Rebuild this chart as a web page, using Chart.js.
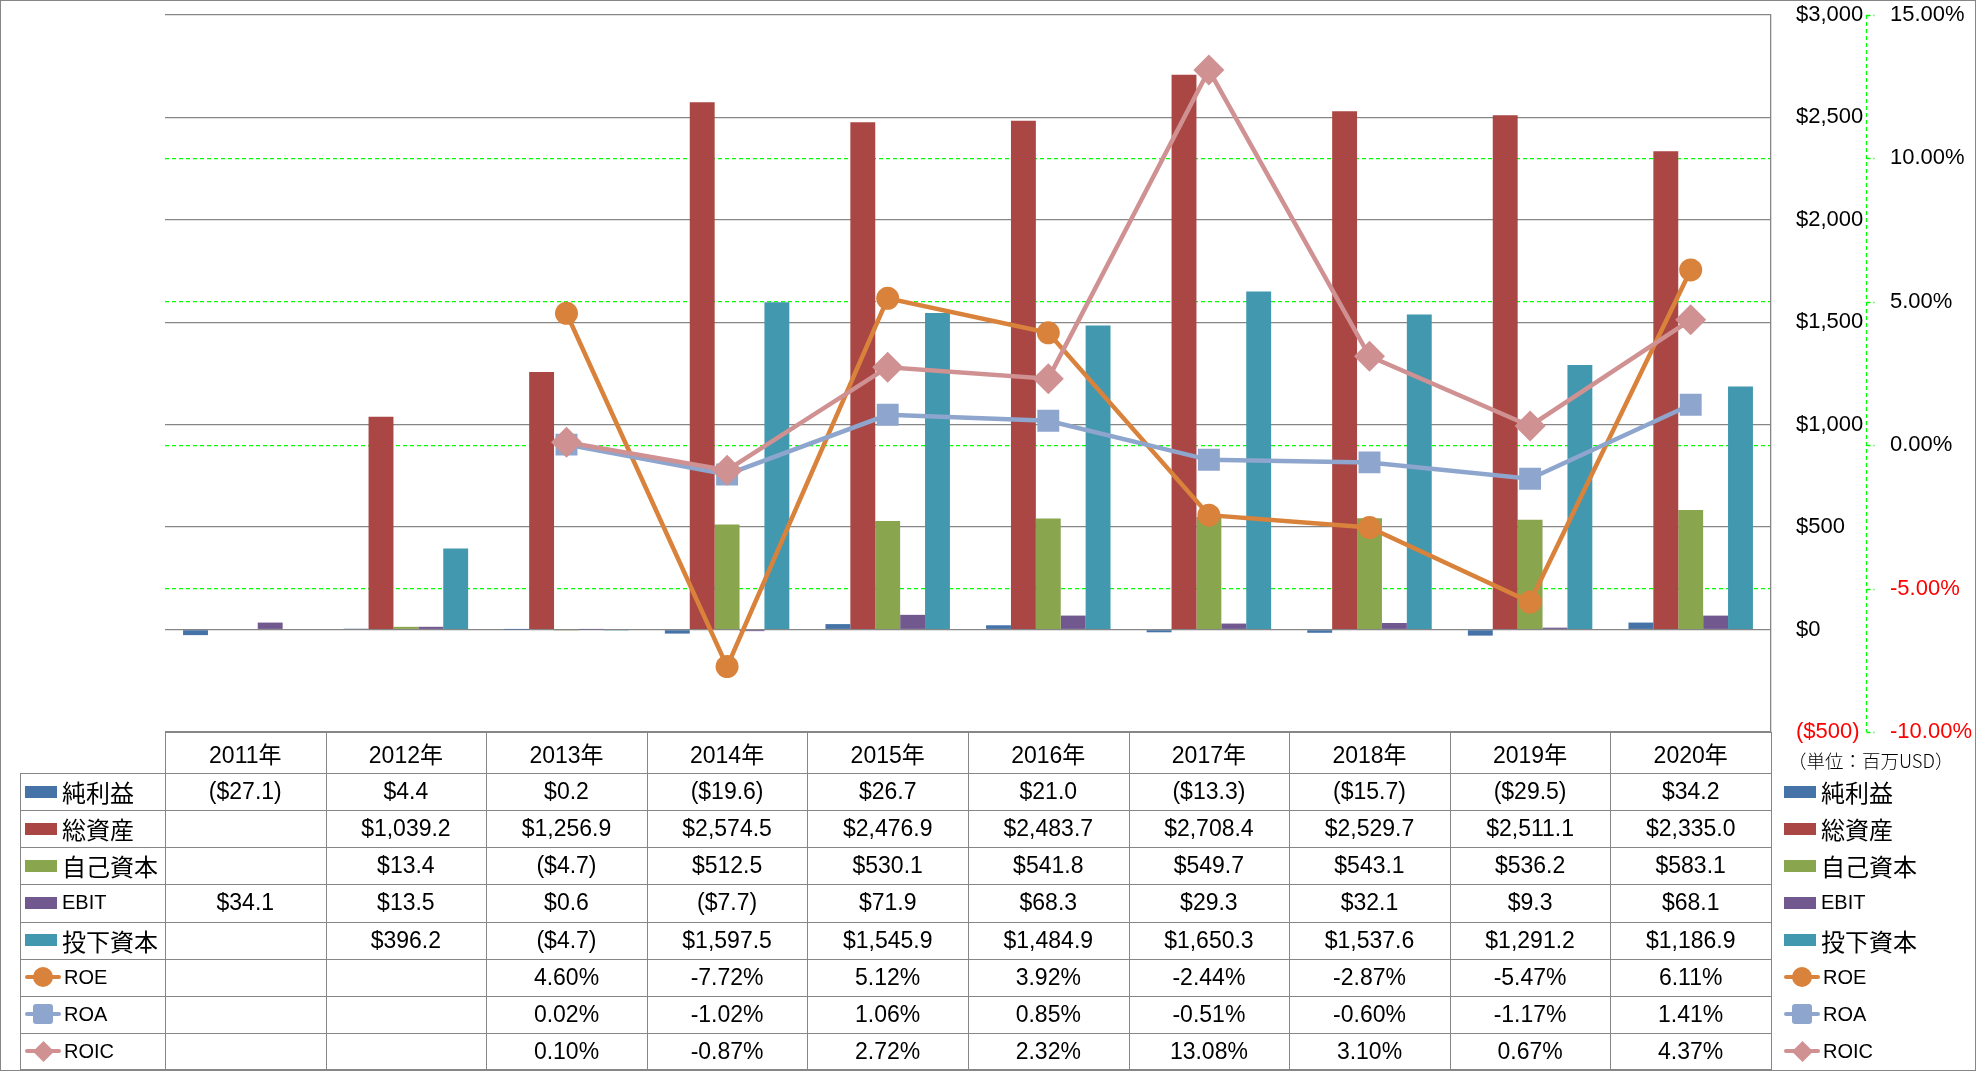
<!DOCTYPE html>
<html>
<head>
<meta charset="utf-8">
<script src="https://cdn.jsdelivr.net/npm/chart.js@4.4.0/dist/chart.umd.min.js"></script>
<style>
  body { margin: 0; background: #fff; }
  #wrap { position: relative; width: 1976px; height: 1071px; overflow: hidden;
          font-family: 'Liberation Sans', 'Noto Sans CJK JP', sans-serif; color: #000; }
  #frame { position: absolute; left: 0; top: 0; width: 1976px; height: 1071px;
           box-sizing: border-box; border: 1px solid #868686; pointer-events: none; }
  canvas { position: absolute; left: 0; top: 0; }
  .ln { position: absolute; background: #868686; }
  .cell { position: absolute; display: flex; align-items: center; justify-content: center;
          font-size: 23px; white-space: nowrap; }
  .key { position: absolute; display: flex; align-items: center; white-space: nowrap; }
  .sw { width: 32px; height: 12px; margin-right: 5px; }
  .lk { position: relative; width: 36px; height: 22px; margin-right: 3px; }
  .lk .bar { position: absolute; left: 0; top: 9px; width: 36px; height: 4px; border-radius: 2px; }
  .lk .mk { position: absolute; left: 8px; top: 1px; width: 20px; height: 20px; }
  #unit { position: absolute; left: 1788px; top: 747px; font-size: 18.5px;
          font-family: 'Noto Sans CJK JP', sans-serif; font-weight: 300; }
</style>
</head>
<body>
<div id="wrap">
  <canvas id="chart" width="1976" height="1071"></canvas>
  <div id="unit">（単位：百万USD）</div>
  <div id="frame"></div>
</div>
<script>
// 年度
const years = ['2011年', '2012年', '2013年', '2014年', '2015年', '2016年', '2017年', '2018年', '2019年', '2020年'];

// 百万USD
const netIncome = [-27.1, 4.4, 0.2, -19.6, 26.7, 21.0, -13.3, -15.7, -29.5, 34.2];
const totalAssets = [null, 1039.2, 1256.9, 2574.5, 2476.9, 2483.7, 2708.4, 2529.7, 2511.1, 2335.0];
const equity = [null, 13.4, -4.7, 512.5, 530.1, 541.8, 549.7, 543.1, 536.2, 583.1];
const ebit = [34.1, 13.5, 0.6, -7.7, 71.9, 68.3, 29.3, 32.1, 9.3, 68.1];
const investedCapital = [null, 396.2, -4.7, 1597.5, 1545.9, 1484.9, 1650.3, 1537.6, 1291.2, 1186.9];

// %
const roe = [null, null, 4.60, -7.72, 5.12, 3.92, -2.44, -2.87, -5.47, 6.11];
const roa = [null, null, 0.02, -1.02, 1.06, 0.85, -0.51, -0.60, -1.17, 1.41];
const roic = [null, null, 0.10, -0.87, 2.72, 2.32, 13.08, 3.10, 0.67, 4.37];

// axis ticks
const usdTicks = [-500, 0, 500, 1000, 1500, 2000, 2500, 3000];
const pctTicks = [-10, -5, 0, 5, 10, 15];

const barSeries = [
  { label: '純利益', data: netIncome, color: '#4572A7' },
  { label: '総資産', data: totalAssets, color: '#AA4643' },
  { label: '自己資本', data: equity, color: '#89A54E' },
  { label: 'EBIT', data: ebit, color: '#71588F' },
  { label: '投下資本', data: investedCapital, color: '#4198AF' }
];
const lineSeries = [
  { label: 'ROE', data: roe, color: '#D9823B', style: 'circle', radius: 11.5, order: 3 },
  { label: 'ROA', data: roa, color: '#8EA6CD', style: 'rect', radius: 15.5, order: 2 },
  { label: 'ROIC', data: roic, color: '#D09192', style: 'rectRot', radius: 15.5, order: 1 }
];

const money = v => {
  if (v === null) return '';
  const s = '$' + Math.abs(v).toLocaleString('en-US', { minimumFractionDigits: 1, maximumFractionDigits: 1 });
  return v < 0 ? '(' + s + ')' : s;
};
const pct = v => (v === null ? '' : v.toFixed(2) + '%');

const tickFont = { family: "'Liberation Sans', sans-serif", size: 22 };
const GREEN = '#00FF00';

// dashed green border + short tick marks for the % axis
const dashedAxis = {
  id: 'dashedAxis',
  afterDraw(chart) {
    const s = chart.scales.y1;
    const ctx = chart.ctx;
    const x = Math.round(s.left) + 0.5;
    ctx.save();
    ctx.strokeStyle = GREEN;
    ctx.lineWidth = 1.3;
    ctx.setLineDash([4, 3]);
    ctx.beginPath();
    ctx.moveTo(x, chart.chartArea.top);
    ctx.lineTo(x, chart.chartArea.bottom);
    s.ticks.forEach(t => {
      const y = Math.round(s.getPixelForValue(t.value)) + 0.5;
      ctx.moveTo(x, y);
      ctx.lineTo(x + 8, y);
    });
    ctx.stroke();
    ctx.restore();
  }
};

const chart = new Chart(document.getElementById('chart'), {
  data: {
    labels: years,
    datasets: [
      ...lineSeries.map(s => ({
        type: 'line',
        label: s.label,
        data: s.data,
        yAxisID: 'y1',
        order: s.order,
        borderColor: s.color,
        backgroundColor: s.color,
        borderWidth: 4.5,
        tension: 0,
        pointStyle: s.style,
        pointRadius: s.radius,
        pointBorderWidth: 0,
        pointBackgroundColor: s.color
      })),
      ...barSeries.map(s => ({
        type: 'bar',
        label: s.label,
        data: s.data,
        yAxisID: 'y',
        order: 10,
        backgroundColor: s.color,
        categoryPercentage: 0.775,
        barPercentage: 1
      }))
    ]
  },
  options: {
    responsive: false,
    animation: false,
    devicePixelRatio: 1,
    layout: { autoPadding: false, padding: { left: 165, top: 15, bottom: 339, right: 0 } },
    plugins: { legend: { display: false }, tooltip: { enabled: false } },
    scales: {
      x: { display: false, offset: true },
      y: {
        position: 'right',
        weight: 1,
        min: -500,
        max: 3000,
        afterFit: s => { s.width = 95; },
        afterBuildTicks: s => { s.ticks = usdTicks.map(v => ({ value: v })); },
        grid: { color: '#868686', lineWidth: 1.3, drawTicks: true, tickLength: 25, tickColor: 'rgba(0,0,0,0)', z: -1 },
        border: { display: true, color: '#868686', width: 1.3 },
        ticks: {
          padding: 0,
          font: tickFont,
          color: c => (c.tick.value < 0 ? '#FF0000' : '#000'),
          callback: v => (v < 0 ? '($' + Math.abs(v) + ')' : '$' + v.toLocaleString('en-US'))
        }
      },
      y1: {
        position: 'right',
        weight: 2,
        min: -10,
        max: 15,
        afterFit: s => { s.width = 110; },
        afterBuildTicks: s => { s.ticks = pctTicks.map(v => ({ value: v })); },
        grid: {
          // top and bottom lines sit under the grey $ grid, so leave them out
          color: c => (c.tick && (c.tick.value === 15 || c.tick.value === -10) ? 'rgba(0,0,0,0)' : GREEN),
          lineWidth: 1.3, drawTicks: true, tickLength: 24, tickColor: 'rgba(0,0,0,0)', z: -2
        },
        border: { display: false, dash: [4, 3] },
        ticks: {
          padding: 0,
          font: tickFont,
          color: c => (c.tick.value < 0 ? '#FF0000' : '#000'),
          callback: v => v.toFixed(2) + '%'
        }
      }
    }
  },
  plugins: [dashedAxis]
});

// data table + legend under / beside the plot
const wrap = document.getElementById('wrap');
const ca = chart.chartArea;
const colW = (ca.right - ca.left) / years.length;
const tableTop = Math.round(ca.bottom);
const headH = 41;
const rowH = 37.125;
const tableLeft = 20;
const tableRows = [
  ...barSeries.map(s => ({ s, fmt: money, kind: 'bar' })),
  ...lineSeries.map(s => ({ s, fmt: pct, kind: 'line' }))
];
const tableBottom = tableTop + headH + rowH * tableRows.length;

function line(x, y, w, h) {
  const d = document.createElement('div');
  d.className = 'ln';
  Object.assign(d.style, { left: x + 'px', top: y + 'px', width: w + 'px', height: h + 'px' });
  wrap.appendChild(d);
}
function cell(text, x, y, w, h) {
  const d = document.createElement('div');
  d.className = 'cell';
  d.textContent = text;
  Object.assign(d.style, { left: x + 'px', top: y + 'px', width: w + 'px', height: h + 'px' });
  wrap.appendChild(d);
}
function keyEl(row, x, y) {
  const d = document.createElement('div');
  d.className = 'key';
  Object.assign(d.style, { left: x + 'px', top: y + 'px', height: rowH + 'px' });
  const s = row.s;
  if (row.kind === 'bar') {
    const sw = document.createElement('div');
    sw.className = 'sw';
    sw.style.background = s.color;
    d.appendChild(sw);
  } else {
    const lk = document.createElement('div');
    lk.className = 'lk';
    const b = document.createElement('div');
    b.className = 'bar';
    b.style.background = s.color;
    const m = document.createElement('div');
    m.className = 'mk';
    m.style.background = s.color;
    if (s.style === 'circle') m.style.borderRadius = '50%';
    if (s.style === 'rect') m.style.borderRadius = '3px';
    if (s.style === 'rectRot') {
      Object.assign(m.style, { width: '15px', height: '15px', left: '10.5px', top: '3.5px', transform: 'rotate(45deg)' });
    }
    lk.appendChild(b);
    lk.appendChild(m);
    d.appendChild(lk);
  }
  const t = document.createElement('span');
  t.textContent = s.label;
  t.style.fontSize = /[^\x00-\x7F]/.test(s.label) ? '24px' : '20px';
  d.appendChild(t);
  wrap.appendChild(d);
}

// header row
line(ca.left, tableTop, ca.right - ca.left + 1, 1);
years.forEach((y, i) => cell(y, ca.left + i * colW, tableTop, colW, headH));
// body rows
tableRows.forEach((r, k) => {
  const top = tableTop + headH + k * rowH;
  line(tableLeft, Math.round(top), ca.right - tableLeft + 1, 1);
  r.s.data.forEach((v, i) => cell(r.fmt(v), ca.left + i * colW, top, colW, rowH));
  keyEl(r, tableLeft + 5, top);
  keyEl(r, ca.right + 13, top);
});
line(tableLeft, Math.round(tableBottom) - 1, ca.right - tableLeft + 1, 1);
// verticals
line(tableLeft, tableTop + headH, 1, tableBottom - tableTop - headH);
for (let i = 0; i <= years.length; i++) {
  line(Math.round(ca.left + i * colW), tableTop, 1, tableBottom - tableTop);
}
</script>
</body>
</html>
